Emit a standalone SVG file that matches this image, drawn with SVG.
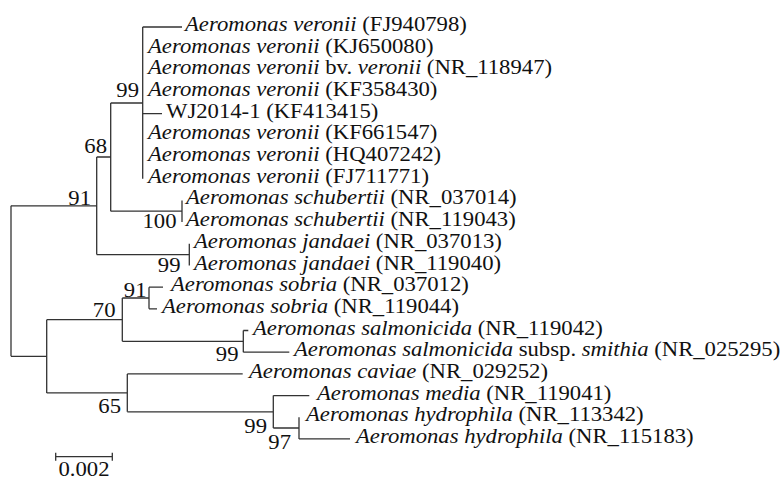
<svg xmlns="http://www.w3.org/2000/svg" width="781" height="479" viewBox="0 0 781 479">
<style>
  .i { font-style: italic; }
  #connectors path, #scalebar path { fill: none; stroke: #333; stroke-width: 1.3; }
</style>
<rect width="781" height="479" fill="#fff"/>
<g id="connectors">
  <path d="M11 205.8 V356.3"/>
  <path d="M11 205.8 H96.7 M96.7 157 V254.6"/>
  <path d="M96.7 157 H110.7 M110.7 103 V211.2"/>
  <path d="M110.7 103 H142.7 M142.7 27 V178.8"/>
  <path d="M142.7 27 H182 M142.7 113.7 H162"/>
  <path d="M110.7 211.2 H182 M182 200.4 V222"/>
  <path d="M96.7 254.6 H189.3 M189.3 243.8 V265.5"/>
  <path d="M11 356.3 H46.7 M46.7 319.7 V392.9"/>
  <path d="M46.7 319.7 H122.3 M122.3 298 V341.3"/>
  <path d="M122.3 298 H149 M149 287.2 V308.8 M149 287.2 H163 M149 308.8 H157"/>
  <path d="M122.3 341.3 H243.3 M243.3 330.5 V352.2 M243.3 330.5 H248.3 M243.3 352.2 H289.3"/>
  <path d="M46.7 392.9 H127.3 M127.3 373.9 V411.8 M127.3 373.9 H242.7"/>
  <path d="M127.3 411.8 H273.3 M273.3 395.6 V428 M273.3 395.6 H309.3"/>
  <path d="M273.3 428 H299 M299 417.2 V438.9 M299 438.9 H350"/>
</g>
<g font-family="Liberation Serif, Times New Roman, serif" font-size="20" fill="#111">
<g id="leaf-FJ940798"><text transform="translate(185 31) scale(1.135 1)"><tspan class="i">Aeromonas veronii</tspan> (FJ940798)</text></g>
<g id="leaf-KJ650080"><text transform="translate(148 52.7) scale(1.135 1)"><tspan class="i">Aeromonas veronii</tspan> (KJ650080)</text></g>
<g id="leaf-NR_118947"><text transform="translate(148 74.4) scale(1.135 1)"><tspan class="i">Aeromonas veronii</tspan> bv. <tspan class="i">veronii</tspan> (NR_118947)</text></g>
<g id="leaf-KF358430"><text transform="translate(148 96) scale(1.135 1)"><tspan class="i">Aeromonas veronii</tspan> (KF358430)</text></g>
<g id="leaf-WJ2014-1"><text transform="translate(166 117.7) scale(1.135 1)">WJ2014-1 (KF413415)</text></g>
<g id="leaf-KF661547"><text transform="translate(148 139.4) scale(1.135 1)"><tspan class="i">Aeromonas veronii</tspan> (KF661547)</text></g>
<g id="leaf-HQ407242"><text transform="translate(148 161) scale(1.135 1)"><tspan class="i">Aeromonas veronii</tspan> (HQ407242)</text></g>
<g id="leaf-FJ711771"><text transform="translate(148 182.8) scale(1.135 1)"><tspan class="i">Aeromonas veronii</tspan> (FJ711771)</text></g>
<g id="leaf-NR_037014"><text transform="translate(186 204.4) scale(1.135 1)"><tspan class="i">Aeromonas schubertii</tspan> (NR_037014)</text></g>
<g id="leaf-NR_119043"><text transform="translate(186 226) scale(1.135 1)"><tspan class="i">Aeromonas schubertii</tspan> (NR_119043)</text></g>
<g id="leaf-NR_037013"><text transform="translate(194 247.8) scale(1.135 1)"><tspan class="i">Aeromonas jandaei</tspan> (NR_037013)</text></g>
<g id="leaf-NR_119040"><text transform="translate(194 269.5) scale(1.135 1)"><tspan class="i">Aeromonas jandaei</tspan> (NR_119040)</text></g>
<g id="leaf-NR_037012"><text transform="translate(171 291.2) scale(1.135 1)"><tspan class="i">Aeromonas sobria</tspan> (NR_037012)</text></g>
<g id="leaf-NR_119044"><text transform="translate(162 312.8) scale(1.135 1)"><tspan class="i">Aeromonas sobria</tspan> (NR_119044)</text></g>
<g id="leaf-NR_119042"><text transform="translate(253 334.5) scale(1.135 1)"><tspan class="i">Aeromonas salmonicida</tspan> (NR_119042)</text></g>
<g id="leaf-NR_025295"><text transform="translate(294 356.2) scale(1.135 1)"><tspan class="i">Aeromonas salmonicida</tspan> subsp. <tspan class="i">smithia</tspan> (NR_025295)</text></g>
<g id="leaf-NR_029252"><text transform="translate(249 377.9) scale(1.135 1)"><tspan class="i">Aeromonas caviae</tspan> (NR_029252)</text></g>
<g id="leaf-NR_119041"><text transform="translate(317 399.6) scale(1.135 1)"><tspan class="i">Aeromonas media</tspan> (NR_119041)</text></g>
<g id="leaf-NR_113342"><text transform="translate(306 421.2) scale(1.135 1)"><tspan class="i">Aeromonas hydrophila</tspan> (NR_113342)</text></g>
<g id="leaf-NR_115183"><text transform="translate(356 442.9) scale(1.135 1)"><tspan class="i">Aeromonas hydrophila</tspan> (NR_115183)</text></g>
<g text-anchor="end">
<g id="node-veronii"><text transform="translate(139 97) scale(1.135 1)">99</text></g>
<g id="node-68"><text transform="translate(107 153.3) scale(1.135 1)">68</text></g>
<g id="node-91a"><text transform="translate(91 205) scale(1.135 1)">91</text></g>
<g id="node-schubertii"><text transform="translate(176.5 228.3) scale(1.135 1)">100</text></g>
<g id="node-jandaei"><text transform="translate(180.5 271.7) scale(1.135 1)">99</text></g>
<g id="node-sobria"><text transform="translate(146.5 296.5) scale(1.135 1)">91</text></g>
<g id="node-70"><text transform="translate(115.5 317.3) scale(1.135 1)">70</text></g>
<g id="node-salmonicida"><text transform="translate(238.5 360.5) scale(1.135 1)">99</text></g>
<g id="node-65"><text transform="translate(121 413.3) scale(1.135 1)">65</text></g>
<g id="node-99b"><text transform="translate(267 432.5) scale(1.135 1)">99</text></g>
<g id="node-97"><text transform="translate(291 449.3) scale(1.135 1)">97</text></g>
</g>
<g id="scalebar">
  <path d="M55.7 456.7 H112.3 M55.7 452.7 V460.7 M112.3 452.7 V460.7"/>
  <text transform="translate(84 475.5) scale(1.135 1)" text-anchor="middle">0.002</text>
</g>
</g>
</svg>
